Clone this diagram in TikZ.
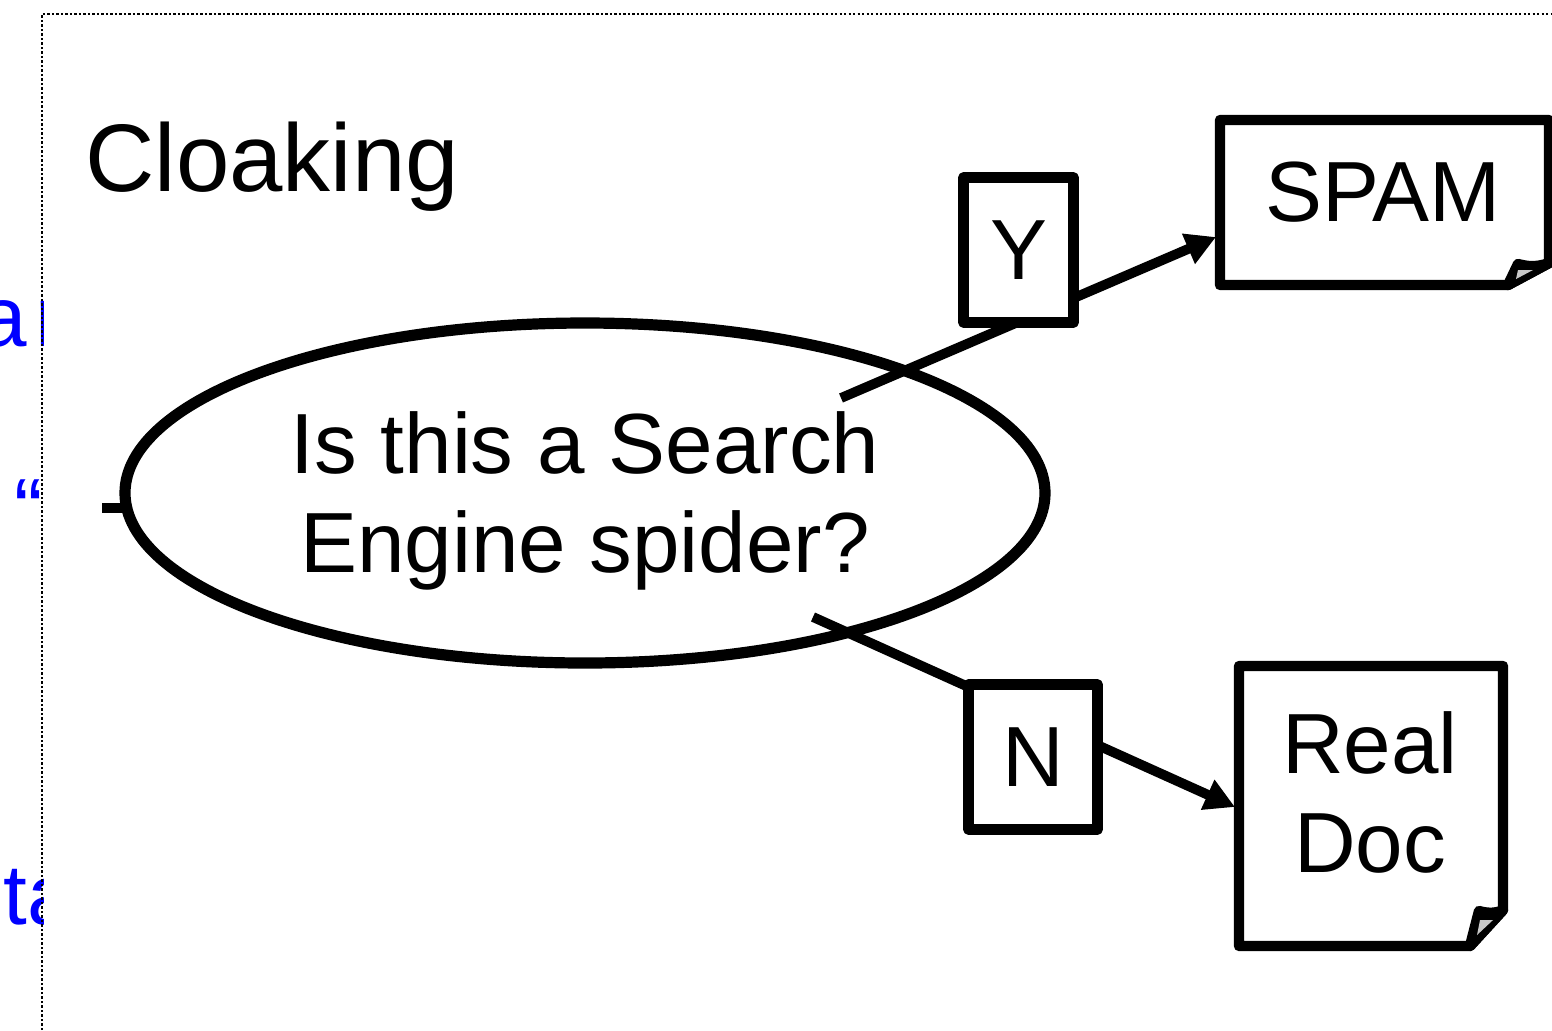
\documentclass[tikz,border=0pt]{standalone}
\usepackage{fontspec}
\setmainfont{Liberation Sans}
\usetikzlibrary{shapes.geometric,arrows.meta}
\definecolor{foldgray}{RGB}{200,200,200}
\tikzset{
  px/.style={x=0.5pt,y=-0.5pt},
  heavy/.style={draw=black,line width=5.2pt,line join=round},
  conn/.style={draw=black,line width=4.9pt,-{Triangle[length=15pt,width=15.5pt]}},
  plainline/.style={draw=black,line width=4.9pt},
  labelbox/.style={heavy,fill=white,rectangle,inner sep=0pt,font=\fontsize{42.7}{49.5}\selectfont},
  bigtext/.style={inner sep=0pt,align=center,font=\fontsize{42.7}{49.5}\selectfont},
  bluetext/.style={inner sep=0pt,anchor=base west,text=blue,font=\fontsize{42.7}{49.5}\selectfont},
  fold/.style={draw=black,line width=5.2pt,line join=round,fill=black},
  foldlight/.style={fill=foldgray,draw=none},
  frame/.style={draw=black,line width=1.4pt,dash pattern=on 1.2pt off 1.05pt}
}
\begin{document}
\begin{tikzpicture}[px]
\useasboundingbox (0,0) rectangle (1552,1030);
\clip (0,0) rectangle (1552,1030);
\begin{scope}
\clip (0,0) rectangle (43,1030);
\node[bluetext] (bluea) at (-21,346) {a\kern4.5pt r};
\node[bluetext] (blueb) at (14,538) {“};
\node[bluetext] (bluec) at (3,924) {ta};
\end{scope}
\draw[frame] (42,1030) -- (42,14) -- (1552,14);
\node[inner sep=0pt,anchor=base west,font=\fontsize{48}{50}\selectfont] (title) at (85,191) {Cloaking};
\coordinate (yfrom) at (841,398);
\coordinate (yto) at (1216,237);
\coordinate (nfrom) at (813,617);
\coordinate (nto) at (1235,807);
\coordinate (stubfrom) at (102,508);
\coordinate (stubto) at (126,508);
\node[ellipse,draw=black,line width=5.6pt,inner sep=0pt,minimum width=460pt,minimum height=170pt] (question) at (585,493) {};
\node[bigtext] (questiontext) at (585,500.5) {Is this a Search\\Engine spider?};
\draw[plainline] (stubfrom) -- (stubto);
\draw[conn] (yfrom) -- (yto);
\draw[conn] (nfrom) -- (nto);
\node[labelbox,minimum width=55pt,minimum height=72.5pt] (ybox) at (1018.5,250) {Y};
\node[labelbox,minimum width=64.5pt,minimum height=72.5pt] (nbox) at (1033,757) {N};
% SPAM document
\draw[heavy,fill=white] (1220,120) -- (1549,120) -- (1549,263) -- (1508,285) -- (1220,285) -- cycle;
\draw[fold] (1508,285) -- (1518,264) .. controls (1526,266) and (1535,268) .. (1549,263) -- cycle;
\fill[foldlight] (1518,270) -- (1533,270) -- (1516,279) -- cycle;
\node[bigtext] (spam) at (1383,192) {SPAM};
% Real Doc document
\draw[heavy,fill=white] (1239,666) -- (1503,666) -- (1503,910) -- (1470,946) -- (1239,946) -- cycle;
\draw[fold] (1470,946) -- (1479,911) .. controls (1486,913) and (1495,914) .. (1503,910) -- cycle;
\fill[foldlight] (1480,920) -- (1493,920) -- (1477,935) -- cycle;
\node[bigtext] (realdoc) at (1370,792) {Real\\Doc};
\end{tikzpicture}
\end{document}
